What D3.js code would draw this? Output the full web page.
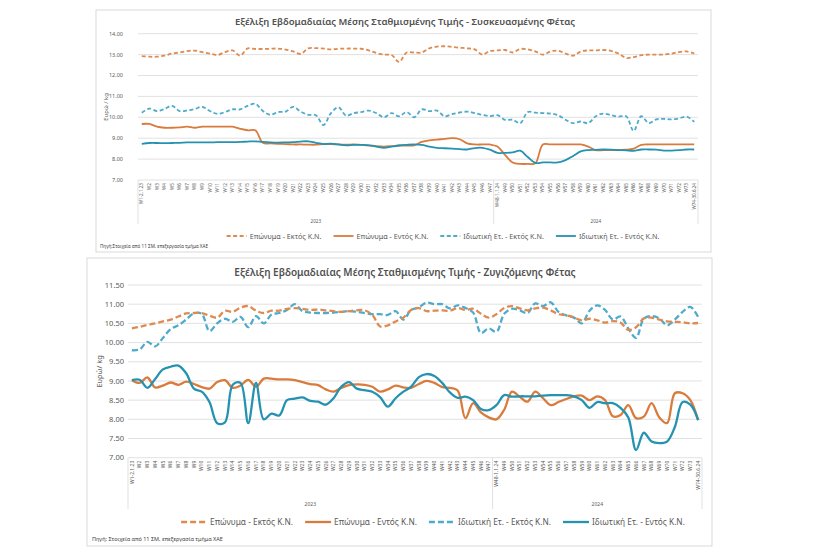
<!DOCTYPE html>
<html>
<head>
<meta charset="utf-8">
<script src="https://cdn.jsdelivr.net/npm/d3@7.9.0/dist/d3.min.js"></script>
<style>
  body { margin: 0; background: #fff; }
  svg { display: block; font-family: "Noto Sans", "Open Sans", sans-serif; }
</style>
</head>
<body>
<svg id="chart" width="820" height="552"></svg>
<script>
// week labels of the category axis (2023 + first half of 2024)
const weekLabels = ['W1-2.1.23','W2','W3','W4','W5','W6','W7','W8','W9','W10',
  'W11','W12','W13','W14','W15','W16','W17','W18','W19','W20',
  'W21','W22','W23','W24','W25','W26','W27','W28','W29','W30',
  'W31','W32','W33','W34','W35','W36','W37','W38','W39','W40',
  'W41','W42','W43','W44','W45','W46','W47','W48-1.1.24','W49','W50',
  'W51','W52','W53','W54','W55','W56','W57','W58','W59','W60',
  'W61','W62','W63','W64','W65','W66','W67','W68','W69','W70',
  'W71','W72','W73','W74-30.6.24'];
const yearLabels = ['2023', '2024'];
const yearStart = [0, 47];

const seriesNames = ['Επώνυμα - Εκτός Κ.Ν.', 'Επώνυμα - Εντός Κ.Ν.',
  'Ιδιωτική Ετ. - Εκτός Κ.Ν.', 'Ιδιωτική Ετ. - Εντός Κ.Ν.'];

// Συσκευασμένη φέτα (top chart)
const packBrandOut = [12.93,12.9,12.9,12.95,13.05,13.1,13.17,13.19,13.12,13.05,
  12.98,13.12,13.2,12.95,13.3,13.27,13.27,13.28,13.29,13.24,
  13.15,13.03,13.3,13.31,13.29,13.25,13.28,13.29,13.29,13.28,
  13.2,13.08,13.0,12.98,12.65,13.1,13.1,13.1,13.3,13.38,
  13.4,13.37,13.33,13.3,13.25,13.0,13.17,13.2,13.22,13.1,
  13.27,13.25,13.15,13.0,13.15,13.19,13.05,12.95,13.15,13.2,
  13.2,13.22,13.18,13.05,12.84,12.88,12.97,13.0,13.0,13.0,
  13.05,13.12,13.15,13.05];
const packBrandIn = [9.68,9.68,9.55,9.5,9.5,9.52,9.55,9.5,9.55,9.55,
  9.55,9.55,9.55,9.45,9.38,9.38,8.78,8.75,8.73,8.72,
  8.7,8.7,8.69,8.69,8.72,8.72,8.7,8.69,8.7,8.68,
  8.66,8.62,8.6,8.62,8.65,8.65,8.66,8.82,8.9,8.93,
  8.97,9.0,8.95,8.75,8.7,8.7,8.7,8.6,8.2,7.84,
  7.77,7.77,7.8,8.7,8.7,8.7,8.7,8.7,8.7,8.6,
  8.43,8.43,8.43,8.44,8.45,8.5,8.68,8.7,8.7,8.7,
  8.7,8.7,8.7,8.7];
const packPrivOut = [10.22,10.42,10.3,10.4,10.55,10.3,10.33,10.4,10.5,10.3,
  10.16,10.25,10.38,10.38,10.55,10.65,10.3,10.12,10.25,10.27,
  10.5,10.27,10.12,10.1,9.63,10.2,10.48,10.08,10.2,10.25,
  10.32,10.2,10.0,10.2,10.05,10.25,10.0,10.38,10.3,10.32,
  10.05,10.15,10.23,10.27,10.2,10.12,10.06,10.1,9.88,9.88,
  9.72,10.25,10.22,10.2,10.18,10.1,9.88,9.72,9.8,9.72,
  10.05,10.18,10.1,10.03,10.05,9.35,10.05,9.72,9.9,9.92,
  9.9,9.95,10.03,9.78];
const packPrivIn = [8.73,8.77,8.77,8.76,8.77,8.78,8.8,8.8,8.8,8.8,
  8.81,8.81,8.81,8.82,8.84,8.85,8.82,8.8,8.79,8.8,
  8.81,8.84,8.85,8.78,8.72,8.74,8.7,8.66,8.68,8.68,
  8.66,8.6,8.54,8.6,8.65,8.68,8.7,8.68,8.6,8.54,
  8.52,8.5,8.48,8.46,8.53,8.54,8.45,8.3,8.3,8.32,
  8.4,8.1,7.82,7.84,7.84,7.84,7.95,8.15,8.37,8.43,
  8.44,8.46,8.45,8.43,8.42,8.4,8.46,8.46,8.45,8.41,
  8.41,8.43,8.46,8.46];

// Ζυγιζόμενη φέτα (bottom chart)
const cutBrandOut = [10.37,10.41,10.46,10.5,10.55,10.6,10.68,10.76,10.77,10.77,
  10.7,10.65,10.83,10.8,10.91,10.95,10.83,10.77,10.83,10.83,
  10.88,10.9,10.88,10.85,10.86,10.84,10.82,10.8,10.82,10.84,
  10.84,10.72,10.42,10.45,10.55,10.65,10.85,10.9,10.82,10.83,
  10.84,10.83,10.9,10.85,10.88,10.75,10.65,10.74,10.9,10.95,
  10.89,10.84,10.89,10.91,10.84,10.74,10.71,10.65,10.58,10.62,
  10.58,10.52,10.56,10.52,10.33,10.4,10.63,10.65,10.6,10.55,
  10.54,10.53,10.5,10.51];
const cutBrandIn = [9.02,8.95,9.09,8.83,8.88,8.96,8.9,8.98,8.92,8.84,
  8.8,8.97,9.02,8.82,8.88,9.03,8.85,9.06,9.06,9.04,
  9.04,9.02,8.97,8.92,8.89,8.78,8.72,8.82,8.89,8.91,
  8.9,8.85,8.72,8.78,8.88,8.83,8.82,8.92,9.0,8.95,
  8.84,8.82,8.75,8.03,8.42,8.18,8.05,8.0,8.25,8.72,
  8.59,8.46,8.72,8.55,8.37,8.45,8.53,8.6,8.62,8.5,
  8.6,8.5,8.08,8.11,8.37,8.03,8.07,8.42,8.05,7.9,
  8.68,8.68,8.5,7.98];
const cutPrivOut = [9.8,9.82,10.02,9.9,10.12,10.35,10.45,10.6,10.76,10.75,
  10.3,10.5,10.62,10.54,10.67,10.4,10.69,10.5,10.73,10.77,
  10.85,11.0,10.82,10.78,10.77,10.77,10.78,10.8,10.82,10.8,
  10.77,10.74,10.74,10.72,10.82,10.6,10.85,10.92,11.04,11.0,
  11.0,10.89,10.97,10.9,10.78,10.25,10.37,10.28,10.75,10.88,
  10.84,10.77,11.02,10.95,11.05,10.8,10.71,10.65,10.5,10.83,
  10.97,10.85,10.6,10.68,10.37,10.12,10.62,10.69,10.63,10.45,
  10.6,10.8,10.93,10.67];
const cutPrivIn = [9.02,9.03,8.82,9.05,9.3,9.37,9.4,9.2,8.8,8.72,
  8.45,7.9,7.92,8.9,8.95,7.9,8.95,8.0,8.15,8.1,
  8.5,8.54,8.57,8.48,8.46,8.38,8.55,8.85,8.97,8.8,
  8.76,8.72,8.58,8.33,8.55,8.72,8.85,9.1,9.18,9.13,
  8.95,8.7,8.56,8.59,8.5,8.27,8.24,8.37,8.63,8.59,
  8.6,8.6,8.6,8.62,8.63,8.63,8.63,8.6,8.5,8.3,
  8.45,8.42,8.42,8.3,8.05,7.2,7.65,7.42,7.38,7.42,
  7.8,8.45,8.38,7.98];

const packTicks = [7, 8, 9, 10, 11, 12, 13, 14];
const cutTicks = [7, 7.5, 8, 8.5, 9, 9.5, 10, 10.5, 11, 11.5];

const colors = ['#de8a50', '#d87b3c', '#4eabcc', '#2492b0'];
const isDashed = [true, false, true, false];

const svg = d3.select('#chart');

function drawChart(o, series) {
  const g = svg.append('g');
  g.append('rect')
    .attr('x', o.box[0]).attr('y', o.box[1])
    .attr('width', o.box[2]).attr('height', o.box[3])
    .attr('fill', '#fff').attr('stroke', '#d9d9d9').attr('stroke-width', 1);

  g.append('text')
    .attr('x', o.titleX).attr('y', o.titleY)
    .attr('text-anchor', 'middle').attr('dy', '0.35em')
    .attr('font-size', o.titleSize).attr('font-weight', 600).attr('fill', '#505050')
    .text(o.title);

  const x = d3.scalePoint().domain(d3.range(weekLabels.length))
    .range([o.x0, o.x1]).padding(0.5);
  const y = d3.scaleLinear().domain([o.ticks[0], o.ticks[o.ticks.length - 1]])
    .range([o.yBottom, o.yTop]);
  const step = x.step();

  // gridlines
  g.selectAll('.grid').data(o.ticks).join('line')
    .attr('x1', o.x0).attr('x2', o.x1)
    .attr('y1', d => y(d)).attr('y2', d => y(d))
    .attr('stroke', '#d9d9d9').attr('stroke-width', 0.8);

  g.selectAll('.ylab').data(o.ticks).join('text')
    .attr('x', o.yLabX).attr('y', d => y(d)).attr('dy', '0.35em')
    .attr('text-anchor', 'end').attr('font-size', o.yLabSize).attr('fill', '#595959')
    .text(d => d3.format('.2f')(d));

  g.append('text')
    .attr('transform', `translate(${o.yTitleX},${(o.yTop + o.yBottom) / 2}) rotate(-90)`)
    .attr('text-anchor', 'middle').attr('dy', '0.35em')
    .attr('font-size', o.yTitleSize).attr('fill', '#595959')
    .text(o.yTitle);

  // category axis: week labels, year groups and separators
  g.selectAll('.xlab').data(weekLabels).join('text')
    .attr('transform', (d, i) => `translate(${x(i)},${o.yBottom + 3}) rotate(-90)`)
    .attr('text-anchor', 'end').attr('dy', '0.35em')
    .attr('font-size', o.xLabSize).attr('fill', '#595959')
    .text(d => d);

  const seps = [o.x0, o.x0 + yearStart[1] * step, o.x1];
  g.selectAll('.sep').data(seps).join('line')
    .attr('x1', d => d).attr('x2', d => d)
    .attr('y1', o.yBottom).attr('y2', o.sepBottom)
    .attr('stroke', '#d9d9d9').attr('stroke-width', 0.8);

  yearLabels.forEach((lab, k) => {
    const a = seps[k], b = seps[k + 1];
    g.append('text')
      .attr('x', (a + b) / 2).attr('y', o.yearY).attr('dy', '0.35em')
      .attr('text-anchor', 'middle').attr('font-size', o.xLabSize).attr('fill', '#595959')
      .text(lab);
  });

  const line = d3.line()
    .x((d, i) => x(i)).y(d => y(d))
    .curve(d3.curveCatmullRom.alpha(0.5));

  // draw the solid ones last, as in the original
  [2, 0, 1, 3].forEach(k => {
    g.append('path')
      .attr('d', line(series[k]))
      .attr('fill', 'none').attr('stroke', colors[k])
      .attr('stroke-width', o.lineW)
      .attr('stroke-linejoin', 'round')
      .attr('stroke-dasharray', isDashed[k] ? o.dash : null);
  });

  // legend
  const leg = g.append('g');
  const items = seriesNames.map((name, k) => {
    const it = leg.append('g');
    it.append('line')
      .attr('x1', 0).attr('x2', o.legSym).attr('y1', 0).attr('y2', 0)
      .attr('stroke', colors[k]).attr('stroke-width', o.lineW)
      .attr('stroke-dasharray', isDashed[k] ? o.dash : null);
    const t = it.append('text')
      .attr('x', o.legSym + 3).attr('dy', '0.35em')
      .attr('font-size', o.legSize).attr('fill', '#595959')
      .text(name);
    return { it, w: o.legSym + 3 + t.node().getComputedTextLength() };
  });
  const total = d3.sum(items, d => d.w) + o.legGap * (items.length - 1);
  let cx = o.legCenter - total / 2;
  items.forEach(d => {
    d.it.attr('transform', `translate(${cx},${o.legY})`);
    cx += d.w + o.legGap;
  });

  g.append('text')
    .attr('x', o.srcX).attr('y', o.srcY).attr('dy', '0.35em')
    .attr('font-size', o.srcSize).attr('fill', '#404040')
    .text(o.source);
}

drawChart({
  box: [96, 10, 615, 242],
  title: 'Εξέλιξη Εβδομαδιαίας Μέσης Σταθμισμένης Τιμής - Συσκευασμένης Φέτας',
  titleX: 405, titleY: 22, titleSize: 9.5,
  x0: 138, x1: 698, yTop: 33.7, yBottom: 180, ticks: packTicks,
  yLabX: 123, yLabSize: 5.5, yTitle: 'Ευρώ / kg', yTitleX: 106, yTitleSize: 6,
  xLabSize: 4.6, sepBottom: 224, yearY: 221,
  lineW: 1.8, dash: '4,2.5',
  legSym: 20, legGap: 12, legSize: 7.2, legY: 236, legCenter: 443,
  source: 'Πηγή:Στοιχεία από 11 ΣΜ, επεξεργασία τμήμα ΧΑΕ', srcX: 100, srcY: 246, srcSize: 4.6
}, [packBrandOut, packBrandIn, packPrivOut, packPrivIn]);

drawChart({
  box: [87, 258, 625, 288],
  title: 'Εξέλιξη Εβδομαδιαίας Μέσης Σταθμισμένης Τιμής - Ζυγιζόμενης Φέτας',
  titleX: 405, titleY: 272, titleSize: 10,
  x0: 128, x1: 702, yTop: 285, yBottom: 457.7, ticks: cutTicks,
  yLabX: 124, yLabSize: 7.5, yTitle: 'Ευρώ/ kg', yTitleX: 99, yTitleSize: 7.5,
  xLabSize: 5, sepBottom: 509, yearY: 504,
  lineW: 2.3, dash: '6,3',
  legSym: 26, legGap: 12, legSize: 8.3, legY: 522, legCenter: 433,
  source: 'Πηγή: Στοιχεία από 11 ΣΜ, επεξεργασία τμήμα ΧΑΕ', srcX: 92, srcY: 539, srcSize: 5.5
}, [cutBrandOut, cutBrandIn, cutPrivOut, cutPrivIn]);
</script>
</body>
</html>
